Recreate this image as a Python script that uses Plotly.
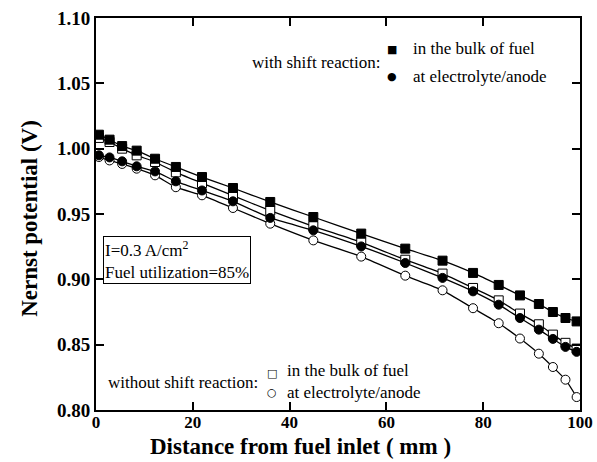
import plotly.graph_objects as go

distance = [0.6, 2.8, 5.4, 8.4, 12.2, 16.5, 21.9, 28.3, 36.0, 44.9, 54.8, 63.9, 71.6, 77.9, 83.2, 87.6, 91.5, 94.4, 97.0, 99.3]

shift_bulk = [1.0107, 1.0069, 1.0020, 0.9985, 0.9923, 0.9860, 0.9783, 0.9699, 0.9592, 0.9477, 0.9350, 0.9235, 0.9143, 0.9049, 0.8957, 0.8877, 0.8811, 0.8750, 0.8704, 0.8678]
shift_anode = [0.9949, 0.9933, 0.9903, 0.9865, 0.9826, 0.9750, 0.9680, 0.9597, 0.9470, 0.9375, 0.9252, 0.9125, 0.9011, 0.8908, 0.8806, 0.8704, 0.8615, 0.8544, 0.8483, 0.8445]
noshift_bulk = [1.0082, 1.0051, 1.0000, 0.9949, 0.9898, 0.9819, 0.9737, 0.9640, 0.9526, 0.9406, 0.9283, 0.9150, 0.9044, 0.8934, 0.8839, 0.8738, 0.8656, 0.8577, 0.8514, 0.8470]
noshift_anode = [0.9936, 0.9910, 0.9883, 0.9847, 0.9796, 0.9705, 0.9643, 0.9546, 0.9426, 0.9298, 0.9174, 0.9028, 0.8916, 0.8779, 0.8664, 0.8547, 0.8431, 0.8329, 0.8232, 0.8099]

x_ticks = [0, 20, 40, 60, 80, 100]
y_ticks = [0.80, 0.85, 0.90, 0.95, 1.00, 1.05, 1.10]

x_title = "Distance from fuel inlet ( mm )"
y_title = "Nernst potential (V)"

SERIF = "Liberation Serif"

fig = go.Figure()

series = [
    (noshift_anode, "circle", "white"),
    (noshift_bulk, "square", "white"),
    (shift_anode, "circle", "black"),
    (shift_bulk, "square", "black"),
]
for ys, sym, fill in series:
    fig.add_trace(go.Scatter(
        x=distance, y=ys, mode="lines+markers",
        line=dict(color="black", width=1.3, shape="spline", smoothing=0.5),
        marker=dict(symbol=sym, size=9, color=fill, line=dict(color="black", width=1)),
        showlegend=False, hoverinfo="skip",
    ))

fig.update_xaxes(
    range=[0, 100], tickvals=x_ticks, ticktext=[str(v) for v in x_ticks],
    ticks="inside", ticklen=8, tickwidth=1.5, tickcolor="black",
    showline=True, linewidth=2, linecolor="black", mirror="ticks",
    showgrid=False, zeroline=False, automargin=False, ticklabelstandoff=-4,
    tickfont=dict(family=SERIF, size=17, color="black", weight="bold"),
)
fig.update_yaxes(
    range=[0.80, 1.10], tickvals=y_ticks, ticktext=[f"{v:.2f}" for v in y_ticks],
    ticks="inside", ticklen=8, tickwidth=1.5, tickcolor="black",
    showline=True, linewidth=2, linecolor="black", mirror="ticks",
    showgrid=False, zeroline=False, automargin=False,
    tickfont=dict(family=SERIF, size=19, color="black", weight="bold"),
)

txt = dict(family=SERIF, size=17, color="black")
title_font = dict(family=SERIF, size=23, color="black", weight="bold")
sym_font = dict(family="DejaVu Sans", size=11, color="black")

def pa(x, y, text, xanchor="left", yanchor="middle", font=txt, **kw):
    return dict(x=x, y=y, xref="paper", yref="paper", xanchor=xanchor, yanchor=yanchor,
                text=text, showarrow=False, font=font, **kw)

ann = [
    pa(0.422, -0.094, x_title, xanchor="center", font=title_font),
    pa(-0.1365, 0.49, y_title, xanchor="center", font=title_font, textangle=-90),
    pa(0.591, 0.887, "with shift reaction:", xanchor="right"),
    pa(0.6116, 0.920, "■", xanchor="center", font=sym_font),
    pa(0.6116, 0.851, "●", xanchor="center", font=sym_font),
    pa(0.651, 0.921, "in the bulk of fuel"),
    pa(0.651, 0.852, "at electrolyte/anode"),
    pa(0.339, 0.0696, "without shift reaction:", xanchor="right"),
    pa(0.3634, 0.0936, "□", xanchor="center", font=sym_font),
    pa(0.3634, 0.0441, "○", xanchor="center", font=sym_font),
    pa(0.391, 0.0995, "in the bulk of fuel"),
    pa(0.391, 0.0459, "at electrolyte/anode"),
    pa(0.0139, 0.444, "I=0.3 A/cm<sup>2</sup><br>Fuel utilization=85%", yanchor="top",
       align="left", bordercolor="black", borderwidth=1, borderpad=1, bgcolor="white"),
]

fig.update_layout(
    width=597, height=462,
    margin=dict(l=96, r=17, t=18, b=52),
    plot_bgcolor="white", paper_bgcolor="white",
    annotations=ann,
)

fig.write_html("out.html")
